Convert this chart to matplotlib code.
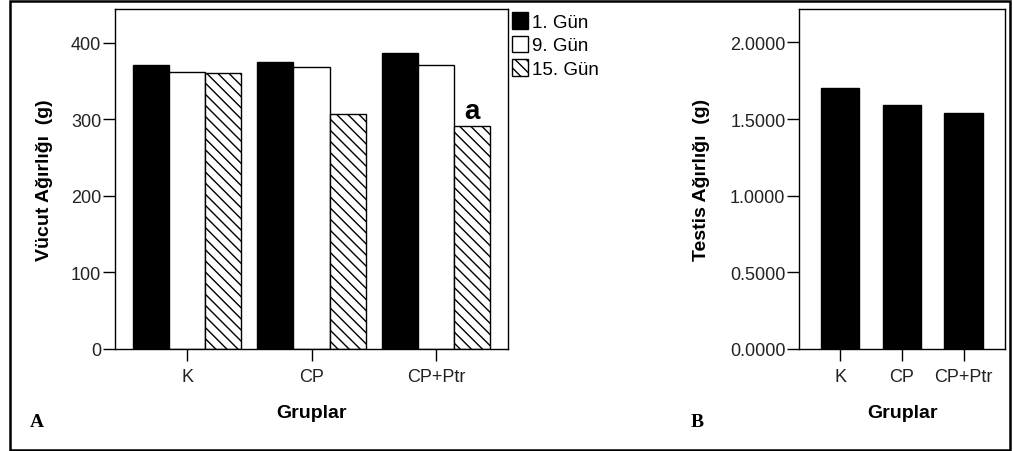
import matplotlib
matplotlib.use('Agg')
import matplotlib.pyplot as plt
import matplotlib.patches as mpatches
import numpy as np

plt.rcParams['font.family'] = ['Liberation Sans', 'DejaVu Sans']
plt.rcParams['hatch.linewidth'] = 1.0

groups = ['K', 'CP', 'CP+Ptr']
days = ['1. Gün', '9. Gün', '15. Gün']
body_weight = {
    '1. Gün': [371, 375, 386],
    '9. Gün': [362, 368, 371],
    '15. Gün': [360, 307, 291],
}
testis_weight = [1.70, 1.59, 1.54]

W, H = 1013, 452
fig = plt.figure(figsize=(W / 100, H / 100), dpi=100)

# outer frame around the whole figure
frame = mpatches.Rectangle((9.5 / W, 1.5 / H), 1000.5 / W, 448.5 / H,
                           transform=fig.transFigure, fill=False,
                           edgecolor='black', linewidth=1.8)
fig.patches.append(frame)


def style(ax):
    for s in ax.spines.values():
        s.set_linewidth(1.0)
    ax.tick_params(direction='out', length=8.5, width=1.0, labelsize=13,
                   colors='black', labelcolor='#222222')
    ax.tick_params(axis='y', pad=1.5)
    ax.tick_params(axis='x', pad=5)


# --- panel A ---
axA = fig.add_axes([115 / W, 1 - 350 / H, 393 / W, 340 / H])
x = np.arange(len(groups))
bw = 0.29
fills = ['black', 'white', 'white']
hatches = [None, None, '\\\\\\']
for i, d in enumerate(days):
    axA.bar(x + (i - 1) * bw, body_weight[d], width=bw, color=fills[i],
            edgecolor='black', linewidth=1.0, hatch=hatches[i], label=d)
axA.set_xlim(-0.58, 2.58)
axA.set_ylim(0, 444)
axA.set_yticks([0, 100, 200, 300, 400])
axA.set_xticks(x)
axA.set_xticklabels(groups)
style(axA)
axA.set_ylabel('Vücut Ağırlığı  (g)', fontsize=14, fontweight='bold')
axA.yaxis.set_label_coords(-0.158, 0.5)
axA.set_xlabel('Gruplar', fontsize=14, fontweight='bold')
axA.xaxis.set_label_coords(0.5, -0.162)
axA.annotate('a', xy=(x[2] + bw, body_weight['15. Gün'][2]), xytext=(0, 6),
             textcoords='offset points', ha='center', va='baseline',
             fontsize=20, fontweight='bold')
axA.legend(loc='upper left', bbox_to_anchor=(1.009, 0.991), frameon=False,
           fontsize=13.5, handlelength=0.9, handleheight=1.0,
           handletextpad=0.2, labelspacing=0.25, borderpad=0,
           borderaxespad=0)

# --- panel B ---
axB = fig.add_axes([799.3 / W, 1 - 350 / H, 205.7 / W, 340 / H])
axB.bar(x, testis_weight, width=0.62, color='black', edgecolor='black',
        linewidth=1.0)
axB.set_xlim(-0.66, 2.67)
axB.set_ylim(0, 2.218)
axB.set_yticks([0, 0.5, 1.0, 1.5, 2.0])
axB.set_yticklabels(['%.4f' % v for v in [0, 0.5, 1.0, 1.5, 2.0]])
axB.set_xticks(x)
axB.set_xticklabels(groups)
style(axB)
axB.set_ylabel('Testis Ağırlığı  (g)', fontsize=14, fontweight='bold')
axB.yaxis.set_label_coords(-0.434, 0.5)
axB.set_xlabel('Gruplar', fontsize=14, fontweight='bold')
axB.xaxis.set_label_coords(0.5, -0.162)

# panel letters
fig.text(37 / W, 1 - 423 / H, 'A', family='Liberation Serif', fontsize=14,
         fontweight='bold', ha='center', va='center')
fig.text(697 / W, 1 - 423 / H, 'B', family='Liberation Serif', fontsize=14,
         fontweight='bold', ha='center', va='center')

fig.savefig('out.png', dpi=100)
